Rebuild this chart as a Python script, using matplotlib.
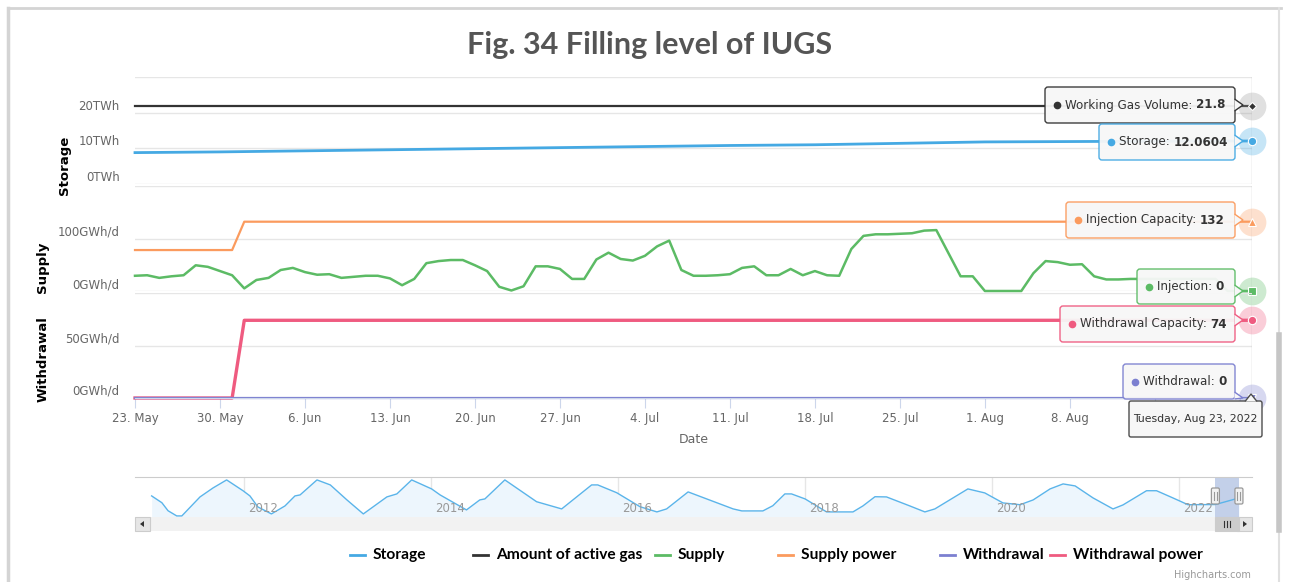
import numpy as np
import pandas as pd
import matplotlib
matplotlib.use("Agg")
import matplotlib.pyplot as plt
import matplotlib.dates as mdates
from matplotlib.patches import FancyBboxPatch, Rectangle, Polygon
from matplotlib.ticker import FuncFormatter

W, H = 1291, 582

# daily injection, 23 May - 23 Aug 2022 (GWh/d)
days = pd.date_range("2022-05-23", "2022-08-23", freq="D")
injection = [29, 30, 25, 28, 30, 49, 46, 38, 30, 5,
             21, 25, 40, 44, 36, 31, 32, 25, 27, 29,
             29, 24, 11, 23, 53, 57, 59, 59, 49, 38,
             8, 1, 9, 47, 47, 42, 23, 23, 60, 73,
             61, 58, 67, 85, 96, 40, 29, 29, 30, 32,
             44, 47, 30, 30, 42, 30, 38, 30, 29, 80,
             105, 108, 108, 109, 110, 115, 116, 72, 28, 28,
             0, 0, 0, 0, 34, 57, 55, 50, 51, 28,
             22, 22, 23, 23, 23, 23, 23, 23, 23, 23,
             0, 0, 0]

# capacities change once, between 31 May and 1 Jun
cap_dates = pd.to_datetime(["2022-05-23", "2022-05-31", "2022-06-01", "2022-08-23"])
injection_capacity = [78, 78, 132, 132]
withdrawal_capacity = [0, 0, 74, 74]

flat_dates = pd.to_datetime(["2022-05-23", "2022-08-23"])
working_gas = [21.8, 21.8]
withdrawal = [0, 0]

# storage level (TWh)
storage_dates = pd.to_datetime(["2022-05-23", "2022-05-30", "2022-06-06", "2022-06-13",
                                "2022-06-20", "2022-06-27", "2022-07-04", "2022-07-11",
                                "2022-07-18", "2022-07-25", "2022-08-01", "2022-08-08",
                                "2022-08-15", "2022-08-23"])
storage = [8.8, 9.0, 9.3, 9.6, 9.9, 10.2, 10.5, 10.8, 11.0, 11.4, 11.8, 11.9, 12.0, 12.0604]

# long-term storage history for the navigator (TWh)
nav_dates = pd.to_datetime([
    "2011-01-05", "2011-02-14", "2011-03-10", "2011-04-13", "2011-05-03", "2011-07-13",
    "2011-09-02", "2011-10-25", "2011-12-28", "2012-01-24", "2012-02-24", "2012-04-17",
    "2012-06-09", "2012-07-18", "2012-08-07", "2012-10-12", "2012-12-03", "2013-02-06",
    "2013-04-11", "2013-07-12", "2013-08-20", "2013-10-17", "2014-01-03", "2014-02-05",
    "2014-05-19", "2014-07-10", "2014-07-30", "2014-10-16", "2015-02-17", "2015-05-26",
    "2015-09-20", "2015-10-14", "2015-12-27", "2016-03-27", "2016-06-01", "2016-07-09",
    "2016-10-01", "2017-03-26", "2017-04-29", "2017-07-20", "2017-08-28", "2017-10-14",
    "2017-11-09", "2018-01-01", "2018-02-28", "2018-03-26", "2018-07-07", "2018-08-15",
    "2018-10-01", "2018-11-15", "2019-02-14", "2019-04-14", "2019-05-23", "2019-09-29",
    "2019-12-04", "2020-02-13", "2020-04-20", "2020-06-10", "2020-08-15", "2020-10-05",
    "2020-11-21", "2021-01-30", "2021-04-18", "2021-05-27", "2021-08-27", "2021-10-05",
    "2021-12-08", "2022-02-05", "2022-05-23", "2022-08-23"])
nav_storage = [13.1, 9.7, 5.7, 3.1, 3.1, 12.6,
               17.1, 21.1, 15.7, 13.1, 7.6, 4.1,
               8.1, 13.1, 13.6, 21.1, 18.6, 11.1,
               4.1, 12.6, 14.1, 21.1, 16.6, 13.6,
               6.1, 11.1, 11.6, 21.1, 10.2, 6.6,
               18.6, 18.6, 14.7, 7.7, 5.1, 6.6,
               15.1, 6.6, 5.6, 5.6, 8.2, 14.1,
               14.1, 11.6, 7.1, 5.1, 5.1, 8.1,
               12.7, 12.6, 8.1, 5.1, 6.6, 16.6,
               14.6, 9.6, 8.7, 11.1, 16.6, 19.1,
               18.1, 12.1, 6.6, 8.6, 15.7, 15.7,
               12.1, 8.7, 8.8, 12.0604]
nav_years = [2012, 2014, 2016, 2018, 2020, 2022]

C_STORAGE = "#45a9e3"
C_GAS = "#333333"
C_SUPPLY = "#5cbb65"
C_SUPPLY_CAP = "#fb9b5e"
C_WITHDRAW = "#7c80d0"
C_WITHDRAW_CAP = "#ef5b80"
HEAD = ["Lato", "DejaVu Sans"]


def px_box(x0, y0, x1, y1):
    return [x0 / W, 1 - y1 / H, (x1 - x0) / W, (y1 - y0) / H]


fig = plt.figure(figsize=(W / 100, H / 100), dpi=100)

ax_s = fig.add_axes(px_box(135, 77, 1252, 184))
ax_p = fig.add_axes(px_box(135, 186, 1252, 291))
ax_w = fig.add_axes(px_box(135, 293, 1252, 398))
ax_n = fig.add_axes(px_box(135, 477, 1252, 517))

panes = [
    (ax_s, (0, 30), [0, 10, 20, 30], ["0TWh", "10TWh", "20TWh", ""]),
    (ax_p, (0, 200), [0, 100, 200], ["0GWh/d", "100GWh/d", ""]),
    (ax_w, (0, 100), [0, 50, 100], ["0GWh/d", "50GWh/d", ""]),
]
for ax, ylim, ticks, labels in panes:
    ax.set_facecolor("none")
    ax.set_xlim(days[0], days[-1])
    ax.set_ylim(*ylim)
    ax.set_yticks(ticks)
    ax.set_yticklabels(labels, color="#666666", fontsize=8.5)
    for lab in ax.get_yticklabels():
        lab.set_va("bottom")
    ax.tick_params(axis="y", length=0, pad=11)
    ax.grid(axis="y", color="#e6e6e6", lw=1)
    ax.set_axisbelow(True)
    for sp in ax.spines.values():
        sp.set_visible(False)
    ax.axvline(days[-1], color="#cccccc", lw=1, zorder=1)

for ax in (ax_s, ax_p):
    ax.tick_params(axis="x", length=0, labelbottom=False)


def day_label(v, pos):
    d = mdates.num2date(v).replace(tzinfo=None)
    # the last weeks sit under the date tooltip
    if d > days[-1] - pd.Timedelta(days=10):
        return ""
    return "%d. %s" % (d.day, d.strftime("%b"))


# x axis under the bottom pane
ax_w.spines["bottom"].set_visible(True)
ax_w.spines["bottom"].set_color("#ccd6eb")
ax_w.xaxis.set_major_locator(mdates.WeekdayLocator(byweekday=mdates.MO))
ax_w.xaxis.set_major_formatter(FuncFormatter(day_label))
ax_w.tick_params(axis="x", length=7, color="#ccd6eb", labelcolor="#666666",
                 labelsize=8.5, pad=3)
ax_w.set_xlabel("Date", color="#666666", fontsize=9, labelpad=6)

# series
ax_s.plot(flat_dates, working_gas, color=C_GAS, lw=1.6, clip_on=False)
ax_s.plot(storage_dates, storage, color=C_STORAGE, lw=2, clip_on=False)
ax_p.plot(cap_dates, injection_capacity, color=C_SUPPLY_CAP, lw=1.6, clip_on=False)
ax_p.plot(days, injection, color=C_SUPPLY, lw=1.8, clip_on=False)
ax_w.plot(cap_dates, withdrawal_capacity, color=C_WITHDRAW_CAP, lw=2.4, clip_on=False)
ax_w.plot(flat_dates, withdrawal, color=C_WITHDRAW, lw=1.6, clip_on=False)

# hovered points at the last date
hover = [
    (ax_s, working_gas[-1], C_GAS, "D", 4, "#999999"),
    (ax_s, storage[-1], C_STORAGE, "o", 6, C_STORAGE),
    (ax_p, injection_capacity[-1], C_SUPPLY_CAP, "^", 6, C_SUPPLY_CAP),
    (ax_p, injection[-1], C_SUPPLY, "s", 6, C_SUPPLY),
    (ax_w, withdrawal_capacity[-1], C_WITHDRAW_CAP, "o", 6, C_WITHDRAW_CAP),
    (ax_w, withdrawal[-1], C_WITHDRAW, "v", 6, C_WITHDRAW),
]
for ax, val, col, mk, ms, halo in hover:
    ax.plot(days[-1], val, "o", ms=20, color=halo, alpha=0.3, mec="none",
            clip_on=False, zorder=5)
    ax.plot(days[-1], val, mk, ms=ms, color=col, mec="white", mew=0.8,
            clip_on=False, zorder=6)

# navigator
nav_lo, nav_hi = 2.56, 22.56
ax_n.set_xlim(pd.Timestamp("2010-11-01"), pd.Timestamp("2022-10-13"))
ax_n.set_ylim(nav_lo, nav_hi)
ax_n.fill_between(nav_dates, nav_storage, nav_lo, color="#edf6fd", lw=0, zorder=1)
ax_n.axvspan(days[0], days[-1], color="#c3d0e9", lw=0, zorder=1.5)
ax_n.plot(nav_dates, nav_storage, color="#5ab4ea", lw=1, zorder=2)
for yr in nav_years:
    d = pd.Timestamp(f"{yr}-01-01")
    ax_n.axvline(d, color="#e6e6e6", lw=1, zorder=0.5)
    ax_n.annotate(str(yr), (d, 0.05), xycoords=("data", "axes fraction"),
                  xytext=(3, 0), textcoords="offset points", ha="left", va="bottom",
                  color="#999999", fontsize=8.5)
ax_n.set_xticks([])
ax_n.set_yticks([])
for name, sp in ax_n.spines.items():
    sp.set_visible(name == "top")
ax_n.spines["top"].set_color("#cccccc")
ax_n.set_facecolor("none")

# overlay in pixel coordinates
ov = fig.add_axes([0, 0, 1, 1])
ov.set_xlim(0, W)
ov.set_ylim(H, 0)
ov.axis("off")
ov.set_zorder(10)


def nav_px(date):
    x, _ = ax_n.transData.transform((mdates.date2num(date), nav_lo))
    return x


h0, h1 = nav_px(days[0]), nav_px(days[-1])

# scrollbar
ov.add_patch(Rectangle((135, 517), 1117, 14, fc="#f2f2f2", ec="none"))
ov.add_patch(Rectangle((135, 517), 15, 14, fc="#e6e6e6", ec="#cccccc", lw=0.8))
ov.add_patch(Polygon([(140, 524), (144, 521), (144, 527)], closed=True, fc="#333333"))
ov.add_patch(Rectangle((1237, 517), 15, 14, fc="#e6e6e6", ec="#cccccc", lw=0.8))
ov.add_patch(Polygon([(1247, 524), (1243, 521), (1243, 527)], closed=True, fc="#333333"))
ov.add_patch(Rectangle((h0, 517), h1 - h0, 14, fc="#cccccc", ec="#cccccc", lw=0.8))
cx = (h0 + h1) / 2
for dx in (-3, 0, 3):
    ov.plot([cx + dx, cx + dx], [521, 527], color="#333333", lw=0.8)

# navigator handles
for hx in (h0, h1):
    ov.add_patch(FancyBboxPatch((hx - 4, 488), 8, 16,
                                boxstyle="round,pad=0,rounding_size=1.5",
                                fc="#f2f2f2", ec="#999999", lw=0.9))
    for dx in (-1.5, 1.5):
        ov.plot([hx + dx, hx + dx], [492, 500], color="#999999", lw=0.8)

# split tooltips
renderer = fig.canvas.get_renderer()


def tooltip(x0, y0, x1, y1, col, label, value, ty):
    ov.add_patch(FancyBboxPatch((x0, y0), x1 - x0, y1 - y0,
                                boxstyle="round,pad=0,rounding_size=3",
                                fc="#f7f7f7", ec=col, lw=1, alpha=0.95))
    ty = min(max(ty, y0 + 7), y1 - 1)
    ov.add_patch(Polygon([(x1 - 0.5, ty - 6), (x1 + 8, ty), (x1 - 0.5, min(ty + 6, y1))],
                         closed=False, fc="#f7f7f7", ec=col, lw=1))
    yc = (y0 + y1) / 2
    ov.plot(x0 + 12, yc, "o", ms=4.5, color=col)
    t = ov.text(x0 + 20, yc, label + ": ", va="center", ha="left",
                fontsize=8.6, color="#333333")
    bb = t.get_window_extent(renderer)
    ov.text(bb.x1, yc, "%g" % value, va="center", ha="left",
            fontsize=8.6, color="#333333", fontweight="bold")


tooltip(1045, 87, 1235, 123, "#333333", "Working Gas Volume", working_gas[-1], 105)
tooltip(1099, 124, 1235, 160, C_STORAGE, "Storage", storage[-1], 141)
tooltip(1066, 202, 1235, 238, C_SUPPLY_CAP, "Injection Capacity", injection_capacity[-1], 220)
tooltip(1137, 269, 1235, 304, C_SUPPLY, "Injection", injection[-1], 291)
tooltip(1060, 306, 1235, 342, C_WITHDRAW_CAP, "Withdrawal Capacity", withdrawal_capacity[-1], 320)
tooltip(1123, 364, 1235, 399, C_WITHDRAW, "Withdrawal", withdrawal[-1], 398)

# date label of the hovered point
ov.add_patch(FancyBboxPatch((1129, 401), 133, 36, boxstyle="round,pad=0,rounding_size=2",
                            fc="#f7f7f7", ec="#4d4d4d", lw=1))
ov.add_patch(Polygon([(1245, 401.5), (1251, 394), (1257, 401.5)], closed=False,
                     fc="#f7f7f7", ec="#4d4d4d", lw=1))
ov.text(1195.5, 419, days[-1].strftime("%A, %b %d, %Y"), ha="center", va="center",
        fontsize=7.8, color="#333333")

# titles and axis names
ov.text(650, 45, "Fig. 34 Filling level of IUGS", ha="center", va="center",
        fontsize=22, fontweight="bold", color="#555555", family=HEAD)
ov.text(65, 165, "Storage", rotation=90, ha="center", va="center",
        fontsize=9.5, fontweight="bold", color="black")
ov.text(43, 267, "Supply", rotation=90, ha="center", va="center",
        fontsize=9.5, fontweight="bold", color="black")
ov.text(43, 359, "Withdrawal", rotation=90, ha="center", va="center",
        fontsize=9.5, fontweight="bold", color="black")

# legend
legend_items = [("Storage", C_STORAGE, 350), ("Amount of active gas", C_GAS, 473),
                ("Supply", C_SUPPLY, 655), ("Supply power", C_SUPPLY_CAP, 778),
                ("Withdrawal", C_WITHDRAW, 940), ("Withdrawal power", C_WITHDRAW_CAP, 1050)]
for name, col, lx in legend_items:
    ov.plot([lx, lx + 15], [555, 555], color=col, lw=2)
    ov.text(lx + 23, 555, name, ha="left", va="center", fontsize=11.2,
            fontweight="bold", color="black", family=HEAD)

ov.text(1251, 575, "Highcharts.com", ha="right", va="center", fontsize=7, color="#999999")

# page frame
ov.plot([8, 8], [8, H], color="#d4d4d4", lw=2.5)
ov.plot([8, 1281], [8, 8], color="#d4d4d4", lw=2)
ov.plot([1279, 1279], [8, H], color="#e0e0e0", lw=1.5)
ov.plot([1279, 1279], [335, 530], color="#c6c6c6", lw=4)

fig.savefig("out.png", dpi=100)
